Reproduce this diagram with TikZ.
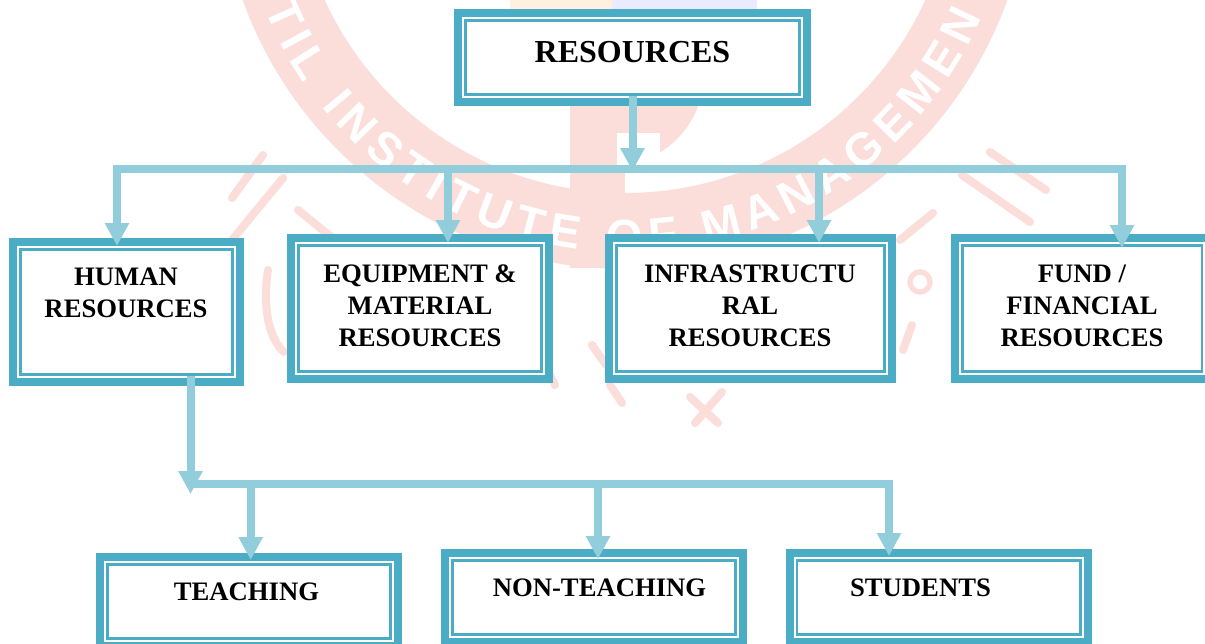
\documentclass[tikz,border=0pt]{standalone}
\usepackage{fontspec}
\setmainfont{Liberation Serif}
\newfontfamily\markfont{Liberation Sans}
\usetikzlibrary{arrows.meta,calc,decorations.text}
\definecolor{boxblue}{HTML}{4BACC6}
\definecolor{linkblue}{HTML}{92CDDC}
\definecolor{markred}{HTML}{FBDDD9}
\tikzset{
    >=Stealth,
    resbox/.style 2 args={draw=boxblue,line width=6pt,fill=white,
        minimum width={#1*0.75pt-6pt},minimum height={#2*0.75pt-6pt},
        path picture={
            \draw[boxblue,line width=1.9pt] ([shift={(5.44pt,5.44pt)}]path picture bounding box.south west) rectangle ([shift={(-5.44pt,-5.44pt)}]path picture bounding box.north east);
        }},
    boxtext/.style={align=center,text=black,inner sep=0pt,font=\fontsize{20}{24}\selectfont\bfseries},
    link/.style={linkblue,line width=6pt},
    drop/.style={link,-{Triangle[length=17.25pt,width=17.25pt]}},
    markstroke/.style={markred,line width=6pt,line cap=round},
}
\begin{document}
\begin{tikzpicture}[x=0.75pt,y=-0.75pt]
   	\useasboundingbox (0,0) rectangle (1205,643);
   	\clip (0,0) rectangle (1205,643);
   	\fill[white] (0,0) rectangle (1205,643);

   	% faint logo behind the chart
   	\fill[orange!12] (510,0) rectangle (612,12);
   	\fill[blue!8] (612,0) rectangle (757,12);
   	\fill[markred,even odd rule] (625,-137) circle[radius=406] (625,-137) circle[radius=330];
   	\fill[markred] (570,100) rectangle (625,268);
   	\fill[markred] (625,100) -- (700,100) .. controls (690,135) and (660,160) .. (625,165) -- cycle;
   	\fill[white] (617,133) rectangle (660,165);
   	\begin{scope}[shift={(625,-137)},x=0.75pt,y=0.75pt]
   		\path[decorate,decoration={text along path,text align={fit to path},
   			text={|\markfont\bfseries\fontsize{35}{35}\selectfont\color{white}|TIL INSTITUTE OF MANAGEMENT}}]
   			(202:389) arc[start angle=202,end angle=342,radius=389];
   	\end{scope}
   	\draw[markstroke] (263,155) -- (232,198);
   	\draw[markstroke] (283,178) -- (232,240);
   	\draw[markstroke] (298,210) -- (335,240);
   	\draw[markstroke] (990,152) -- (1046,190);
   	\draw[markstroke] (962,175) -- (1030,222);
   	\draw[markstroke] (933,213) -- (900,240);
   	\draw[markred,line width=4pt] (920,282) circle[radius=10];
   	\draw[markstroke] (268,270) .. controls (262,310) and (270,340) .. (284,352);
   	\draw[markstroke] (903,350) -- (912,325);
   	\draw[markstroke] (592,345) -- (606,365);
   	\draw[markstroke] (610,385) -- (622,403);
   	\draw[markstroke] (690,397) -- (718,423);
   	\draw[markstroke] (722,392) -- (695,423);
   	\draw[markstroke] (545,365) -- (555,385);

   	% boxes
   	\node[resbox={357}{97}] (resources) at (632.5,57.5) {};
   	\node[resbox={235}{148}] (human) at (126.5,312) {};
   	\node[resbox={266}{149}] (equipment) at (420,308.5) {};
   	\node[resbox={291}{149}] (infra) at (750.5,308.5) {};
   	\node[resbox={262}{149}] (fund) at (1082,308.5) {};
   	\node[resbox={306}{97}] (teaching) at (249,601.5) {};
   	\node[resbox={306}{97}] (nonteaching) at (594,597.5) {};
   	\node[resbox={306}{97}] (students) at (938.5,597.5) {};

   	\node[boxtext,font=\fontsize{24}{28}\selectfont\bfseries] (resourcestext) at (632.5,52) {RESOURCES};
   	\node[boxtext] (humantext) at (126,293) {HUMAN\\RESOURCES};
   	\node[boxtext] (equipmenttext) at (420,306) {EQUIPMENT \&\\MATERIAL\\RESOURCES};
   	\node[boxtext] (infratext) at (750,306) {INFRASTRUCTU\\RAL\\RESOURCES};
   	\node[boxtext] (fundtext) at (1082,306) {FUND /\\FINANCIAL\\RESOURCES};
   	\node[boxtext] (teachingtext) at (246.5,592) {TEACHING};
   	\node[boxtext] (nonteachingtext) at (599.5,588) {NON-TEACHING};
   	\node[boxtext] (studentstext) at (920.5,588) {STUDENTS};

   	% upper connectors
   	\coordinate (busleft) at (113,169);
   	\coordinate (busright) at (1123,169);
   	\coordinate (dropa) at (117,165);
   	\coordinate (dropb) at (448,165);
   	\coordinate (dropc) at (819,165);
   	\coordinate (dropd) at (1122,165);
   	\draw[drop] ($(resources.south)+(0,-10)$) -- ($(resources.south)+(0,65)$);
   	\draw[link] (busleft) -- (busright);
   	\draw[drop] (dropa) -- ($(dropa |- human.north)+(0,8)$);
   	\draw[drop] (dropb) -- ($(dropb |- equipment.north)+(0,9)$);
   	\draw[drop] (dropc) -- ($(dropc |- infra.north)+(0,9)$);
   	\draw[drop] (dropd) -- ($(dropd |- fund.north)+(0,14)$);

   	% lower connectors
   	\coordinate (lowbusleft) at (190,484);
   	\coordinate (lowbusright) at (893,484);
   	\coordinate (lowa) at (250.7,480);
   	\coordinate (lowb) at (598,480);
   	\coordinate (lowc) at (889,480);
   	\draw[link] (lowbusleft) -- (lowbusright);
   	\draw[drop] ($(human.south)+(64,-10)$) -- ($(human.south)+(64,108)$);
   	\draw[drop] (lowa) -- ($(lowa |- teaching.north)+(0,7)$);
   	\draw[drop] (lowb) -- ($(lowb |- nonteaching.north)+(0,10)$);
   	\draw[drop] (lowc) -- ($(lowc |- students.north)+(0,7)$);
\end{tikzpicture}
\end{document}
